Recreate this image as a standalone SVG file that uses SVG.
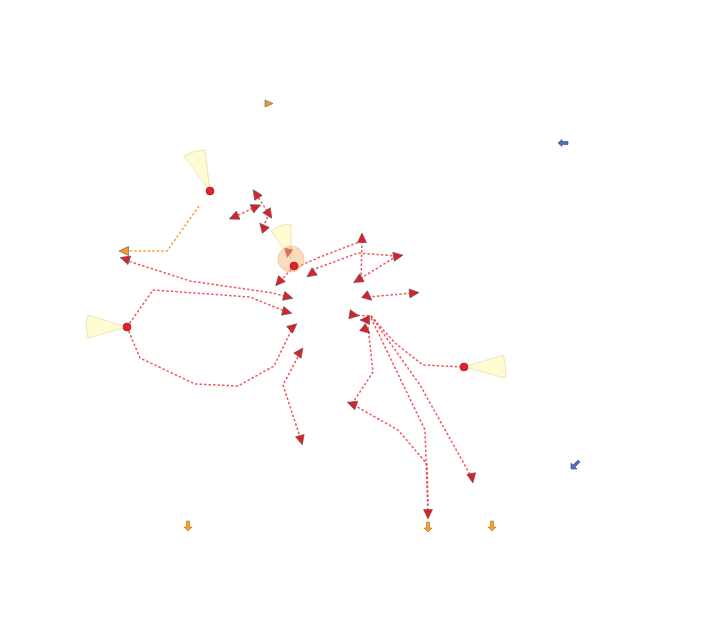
<svg xmlns="http://www.w3.org/2000/svg" xmlns:xlink="http://www.w3.org/1999/xlink" width="720" height="644" viewBox="0 0 720 644">
<style>
.ln{fill:none;stroke:#ee3a44;stroke-width:1.5;stroke-dasharray:2.5 2;stroke-opacity:0.85}
.lo{fill:none;stroke:#f5a040;stroke-width:1.5;stroke-dasharray:2.5 2}
.tr{fill:#dd1f2a;stroke:#555;stroke-width:0.6}
.to{fill:#f09a30;stroke:#555;stroke-width:0.6}
.dot{fill:#e3212b;stroke:#a01018;stroke-width:0.6}
.wedge{fill:#fffbd2;stroke:#ebe6b8;stroke-width:1}
.blue{fill:#4d73b5;stroke:#2f4f86;stroke-width:0.6}
.orng{fill:#f3a233;stroke:#b86b12;stroke-width:0.6}
</style>
<defs>
<path id="t" d="M5,0 L-4.5,-4.5 L-4.5,4.5 Z"/>
</defs>
<rect width="720" height="644" fill="#fff"/>

<g id="connectors">
<polyline class="lo" points="199,206 167,251 126,251"/>
<polyline class="ln" points="234,217 256,207"/>
<polyline class="ln" points="256,194 269,214 263,227"/>
<polyline class="ln" points="294,266 279,283"/>
<polyline class="ln" points="297,267 320,257 362,241"/>
<polyline class="ln" points="362,241 361,280"/>
<polyline class="ln" points="312,270 358,253 397,256"/>
<polyline class="ln" points="397,256 358,280"/>
<polyline class="ln" points="125,260 190,281 273,293 288,297"/>
<polyline class="ln" points="127,327 153,290 250,297 287,312"/>
<polyline class="ln" points="127,327 140,358 195,384 238,386 274,366 293,327"/>
<polyline class="ln" points="300,353 283,385 301,440"/>
<polyline class="ln" points="368,297 413,293"/>
<polyline class="ln" points="353,315 371,316 395,343 423,365 463,367"/>
<polyline class="ln" points="371,316 420,385 472,478"/>
<polyline class="ln" points="371,318 425,430 428,514"/>
<polyline class="ln" points="368,327 373,372 352,404 398,430 427,464 428,505"/>
</g>

<g id="arrowheads">
<use xlink:href="#t" class="tr" transform="translate(256,194) rotate(-123)"/>
<use xlink:href="#t" class="tr" transform="translate(256,207) rotate(-24)"/>
<use xlink:href="#t" class="tr" transform="translate(234,217) rotate(156)"/>
<use xlink:href="#t" class="tr" transform="translate(269,214) rotate(57)"/>
<use xlink:href="#t" class="tr" transform="translate(263,227) rotate(-130)"/>
<use xlink:href="#t" class="tr" transform="translate(279,282) rotate(131)"/>
<use xlink:href="#t" class="tr" transform="translate(362,238) rotate(-90)"/>
<use xlink:href="#t" class="tr" transform="translate(311,274) rotate(145)"/>
<use xlink:href="#t" class="tr" transform="translate(398,256) rotate(-10)"/>
<use xlink:href="#t" class="tr" transform="translate(358,280) rotate(150)"/>
<use xlink:href="#t" class="tr" transform="translate(125,259) rotate(197)"/>
<use xlink:href="#t" class="tr" transform="translate(288,297) rotate(15)"/>
<use xlink:href="#t" class="tr" transform="translate(287,312) rotate(15)"/>
<use xlink:href="#t" class="tr" transform="translate(293,327) rotate(-40)"/>
<use xlink:href="#t" class="tr" transform="translate(300,352) rotate(-55)"/>
<use xlink:href="#t" class="tr" transform="translate(301,440) rotate(75)"/>
<use xlink:href="#t" class="tr" transform="translate(368,297) rotate(40)"/>
<use xlink:href="#t" class="tr" transform="translate(414,293) rotate(-5)"/>
<use xlink:href="#t" class="tr" transform="translate(354,315) rotate(10)"/>
<use xlink:href="#t" class="tr" transform="translate(365,320) rotate(180)"/>
<use xlink:href="#t" class="tr" transform="translate(366,330) rotate(40)"/>
<use xlink:href="#t" class="tr" transform="translate(352,404) rotate(200)"/>
<use xlink:href="#t" class="tr" transform="translate(428,514) rotate(90)"/>
<use xlink:href="#t" class="tr" transform="translate(472,478) rotate(80)"/>
<use xlink:href="#t" class="to" transform="translate(124,251) rotate(180)"/>
</g>

<g id="node-a">
<path class="wedge" d="M210,191 L184,156 A44,44 0 0 1 205,150 Z"/>
<circle class="dot" cx="210" cy="191" r="4"/>
</g>
<g id="node-b">
<path class="wedge" d="M127,327 L88,315 A42,42 0 0 0 88,338 Z"/>
<circle class="dot" cx="127" cy="327" r="4"/>
</g>
<g id="node-c">
<path class="wedge" d="M464,367 L503,355 A42,42 0 0 1 505,378 Z"/>
<circle class="dot" cx="464" cy="367" r="4"/>
</g>
<g id="node-center">
<path class="wedge" d="M291,259 L271,231 A35,35 0 0 1 291,224 Z"/>
<circle cx="291" cy="259" r="13" fill="#f6b070" fill-opacity="0.45" stroke="#f3b27a" stroke-opacity="0.5"/>
<use xlink:href="#t" class="tr" transform="translate(288,253) rotate(100) scale(0.9)" opacity="0.6"/>
<circle class="dot" cx="294" cy="266" r="4" fill="#e8402a"/>
</g>

<g id="flag">
<path class="to" d="M265,100 L273,103.5 L265,107 Z"/>
</g>
<g id="blue-left">
<path class="blue" d="M558,143 L562,139.5 L562,141.5 L568,141.5 L568,144.5 L562,144.5 L562,146.5 Z"/>
</g>
<g id="blue-diag">
<path class="blue" d="M571,469 L571,463 L573,465 L578,460 L580,462 L575,467 L577,469 Z"/>
</g>
<g id="orange-1">
<path class="orng" d="M188,531 L184,527 L186.5,527 L186.5,521 L189.5,521 L189.5,527 L192,527 Z"/>
</g>
<g id="orange-2">
<path class="orng" d="M428,532 L424,528 L426.5,528 L426.5,522 L429.5,522 L429.5,528 L432,528 Z"/>
</g>
<g id="orange-3">
<path class="orng" d="M492,531 L488,527 L490.5,527 L490.5,521 L493.5,521 L493.5,527 L496,527 Z"/>
</g>
</svg>
